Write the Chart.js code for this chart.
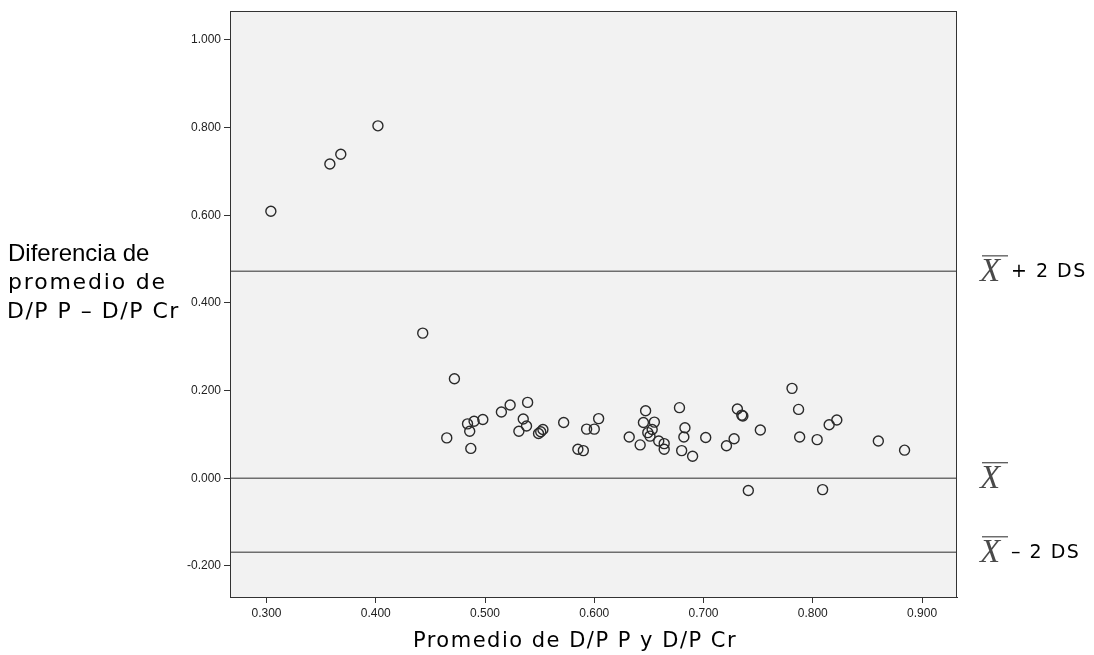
<!DOCTYPE html>
<html lang="es">
<head>
    <meta charset="UTF-8">
    <title>Diferencia vs promedio D/P</title>
    <script src="https://cdn.jsdelivr.net/npm/chart.js"></script>
    <style>
        body { margin: 0; background: #fff; }
        .canvas-container { width: 1094px; height: 655px; }
    </style>
</head>
<body>

<div class="canvas-container">
    <canvas id="baChart" width="1094" height="655"></canvas>
</div>

<script>
    // Promedio de D/P P y D/P Cr (x) y diferencia D/P P - D/P Cr (y)
    const promedio = [
        0.304, 0.358, 0.368, 0.402, 0.443, 0.472,
        0.465, 0.484, 0.486, 0.490, 0.498, 0.487, 0.515, 0.523, 0.539, 0.535, 0.538, 0.531,
        0.549, 0.551, 0.553, 0.572, 0.593, 0.600, 0.604, 0.585, 0.590,
        0.632, 0.642, 0.647, 0.645, 0.655, 0.649, 0.651, 0.653, 0.659, 0.664, 0.664,
        0.678, 0.683, 0.682, 0.680, 0.690,
        0.702, 0.721, 0.728, 0.731, 0.735, 0.736, 0.752,
        0.781, 0.787, 0.788, 0.804, 0.815, 0.822, 0.860, 0.884,
        0.741, 0.809
    ];
    const diferencia = [
        0.609, 0.717, 0.739, 0.804, 0.331, 0.227,
        0.092, 0.124, 0.107, 0.130, 0.134, 0.068, 0.151, 0.167, 0.173, 0.135, 0.119, 0.107,
        0.102, 0.106, 0.111, 0.127, 0.112, 0.112, 0.136, 0.066, 0.063,
        0.094, 0.076, 0.154, 0.127, 0.128, 0.104, 0.096, 0.111, 0.085, 0.079, 0.066,
        0.161, 0.115, 0.094, 0.063, 0.050,
        0.093, 0.074, 0.090, 0.158, 0.144, 0.142, 0.110,
        0.205, 0.157, 0.094, 0.088, 0.122, 0.133, 0.085, 0.064,
        -0.028, -0.026
    ];

    // lineas de referencia: media y +/- 2 DS
    const media = 0.000;
    const limiteSup = 0.472;
    const limiteInf = -0.169;

    const xTicks = [0.3, 0.4, 0.5, 0.6, 0.7, 0.8, 0.9];
    const yTicks = [-0.2, 0.0, 0.2, 0.4, 0.6, 0.8, 1.0];
    const xRange = [0.2666, 0.932];
    const yRange = [-0.271, 1.066];

    const refLines = [
        { value: limiteSup, label: '+ 2 DS' },
        { value: media, label: '' },
        { value: limiteInf, label: '\u2013 2 DS' }
    ];

    const puntos = promedio.map((x, i) => ({ x: x, y: diferencia[i] }));

    const lineDatasets = refLines.map(r => ({
        type: 'line',
        data: [{ x: xRange[0], y: r.value }, { x: xRange[1], y: r.value }],
        borderColor: '#6e6e6e',
        borderWidth: 1.5,
        pointRadius: 0,
        fill: false,
        order: 2
    }));

    // fondo gris del area de grafico y recuadro
    const plotArea = {
        id: 'plotArea',
        beforeDraw(chart) {
            const { ctx, chartArea: a } = chart;
            ctx.save();
            ctx.fillStyle = '#f2f2f2';
            ctx.fillRect(a.left, a.top, a.right - a.left, a.bottom - a.top);
            ctx.restore();
        },
        afterDraw(chart) {
            const { ctx, chartArea: a } = chart;
            ctx.save();
            ctx.strokeStyle = '#333';
            ctx.lineWidth = 1;
            ctx.strokeRect(a.left + 0.5, a.top + 0.5, a.right - a.left - 1, a.bottom - a.top);
            ctx.restore();
        }
    };

    // titulos de ejes y etiquetas de las lineas
    const textos = {
        id: 'textos',
        afterDraw(chart) {
            const { ctx } = chart;
            const y = chart.scales.y;
            ctx.save();
            ctx.fillStyle = '#000';
            ctx.textAlign = 'left';
            ctx.textBaseline = 'alphabetic';

            ctx.font = '24px "Liberation Sans", Arial, sans-serif';
            ctx.fillText('Diferencia de', 8, 261);
            ctx.font = '22px "DejaVu Sans", sans-serif';
            ctx.letterSpacing = '1.8px';
            ctx.fillText('promedio de', 8, 289);
            ctx.letterSpacing = '1.5px';
            ctx.fillText('D/P P \u2013 D/P Cr', 7, 318);

            ctx.font = '21px "DejaVu Sans", sans-serif';
            ctx.letterSpacing = '1.5px';
            ctx.textAlign = 'center';
            ctx.fillText('Promedio de D/P P y D/P Cr', 575, 647);

            refLines.forEach(r => {
                const py = y.getPixelForValue(r.value);
                const x0 = 980;
                ctx.letterSpacing = '0px';
                ctx.textAlign = 'left';
                ctx.textBaseline = 'middle';
                ctx.fillStyle = '#4a4a4a';
                ctx.font = 'italic 33px "Liberation Serif", serif';
                ctx.fillText('X', x0, py + 1);
                ctx.strokeStyle = '#4a4a4a';
                ctx.lineWidth = 1.2;
                ctx.beginPath();
                ctx.moveTo(x0 + 2, py - 15.5);
                ctx.lineTo(x0 + 28, py - 15.5);
                ctx.stroke();
                if (r.label) {
                    ctx.fillStyle = '#000';
                    ctx.font = '19px "DejaVu Sans", sans-serif';
                    ctx.letterSpacing = '1.5px';
                    ctx.fillText(r.label, x0 + 31, py + 1);
                }
            });
            ctx.restore();
        }
    };

    const ctx = document.getElementById('baChart').getContext('2d');

    const baChart = new Chart(ctx, {
        type: 'scatter',
        data: {
            datasets: [{
                data: puntos,
                borderColor: '#2a2a2a',
                backgroundColor: 'rgba(0, 0, 0, 0)',
                pointRadius: 5,
                pointBorderWidth: 1.4,
                order: 1
            }].concat(lineDatasets)
        },
        options: {
            responsive: false,
            animation: false,
            layout: { padding: { left: 170, right: 137, top: 11, bottom: 0 } },
            plugins: {
                legend: { display: false },
                tooltip: { enabled: false }
            },
            scales: {
                x: {
                    type: 'linear',
                    min: xRange[0],
                    max: xRange[1],
                    afterBuildTicks: s => { s.ticks = xTicks.map(v => ({ value: v })); },
                    afterFit: s => { s.height = 58; },
                    grid: { drawOnChartArea: false, tickLength: 6, color: '#333' },
                    border: { color: '#333' },
                    ticks: {
                        padding: 3,
                        color: '#222',
                        font: { family: '"Liberation Sans", Arial, sans-serif', size: 12 },
                        callback: v => v.toFixed(3)
                    }
                },
                y: {
                    type: 'linear',
                    min: yRange[0],
                    max: yRange[1],
                    afterBuildTicks: s => { s.ticks = yTicks.map(v => ({ value: v })); },
                    afterFit: s => { s.width = 60; },
                    grid: { drawOnChartArea: false, tickLength: 6, color: '#333' },
                    border: { color: '#333' },
                    ticks: {
                        padding: 3,
                        color: '#222',
                        font: { family: '"Liberation Sans", Arial, sans-serif', size: 12 },
                        callback: v => v.toFixed(3)
                    }
                }
            }
        },
        plugins: [plotArea, textos]
    });
</script>

</body>
</html>
